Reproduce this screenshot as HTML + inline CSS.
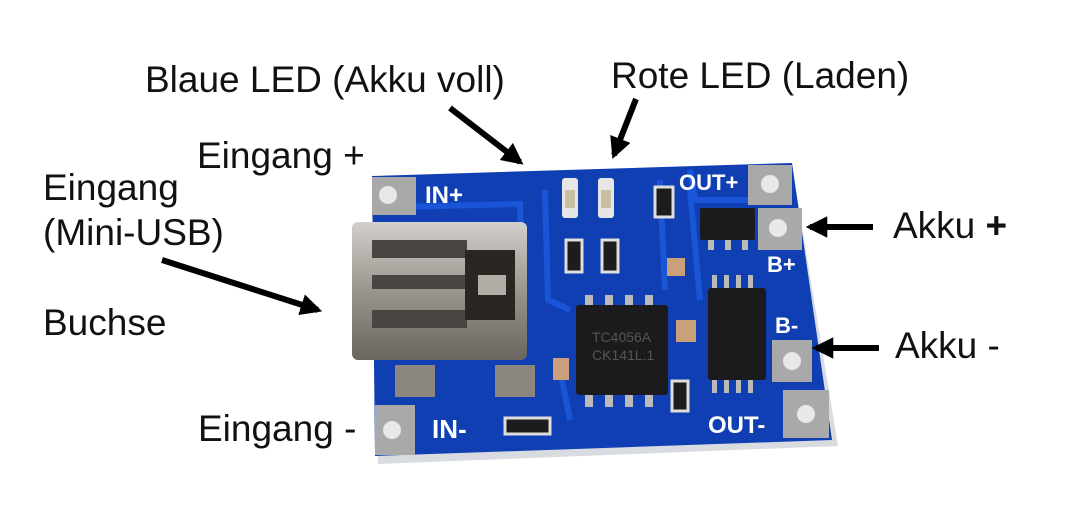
<!DOCTYPE html>
<html><head><meta charset="utf-8"><style>
html,body{margin:0;padding:0;background:#fff;}
svg{display:block;}
text{font-family:"Liberation Sans",Arial,sans-serif;}
</style></head><body>
<svg width="1087" height="529" viewBox="0 0 1087 529" xmlns="http://www.w3.org/2000/svg">
<defs>
<marker id="ah" viewBox="0 0 10 10" refX="8" refY="5" markerWidth="3.6" markerHeight="3.6" orient="auto" markerUnits="strokeWidth">
<path d="M0,0 L10,5 L0,10 z" fill="#000"/></marker>
<linearGradient id="usb" x1="0" y1="0" x2="0" y2="1"><stop offset="0" stop-color="#d2d0cc"/><stop offset="0.5" stop-color="#9a958e"/><stop offset="1" stop-color="#6a655e"/></linearGradient>
</defs>
<!-- board edge/thickness -->
<polygon points="372,180 792,166 838,446 378,464" fill="#d8dbe0"/>
<!-- board -->
<polygon points="372,176 792,163 832,440 375,456" fill="#0f3fb3"/>
<!-- traces -->
<g stroke="#1a55d8" stroke-width="6" fill="none">
<path d="M400,207 L520,204 L522,300"/><path d="M545,190 L548,300 L570,310"/>
<path d="M660,180 L665,290"/><path d="M690,190 L700,300"/><path d="M560,370 L570,420"/>
<path d="M690,170 L695,200 L760,200"/>
</g>
<!-- corner pads -->
<g fill="#a9a9a9">
<rect x="372" y="177" width="44" height="38"/><rect x="748" y="165" width="44" height="40"/>
<rect x="758" y="208" width="44" height="42"/><rect x="772" y="340" width="40" height="42"/>
<rect x="783" y="390" width="46" height="48"/><rect x="375" y="405" width="40" height="50"/>
</g>
<g fill="#e8e8ea"><circle cx="388" cy="195" r="9"/><circle cx="770" cy="184" r="9"/><circle cx="778" cy="228" r="9"/><circle cx="792" cy="361" r="9"/><circle cx="806" cy="414" r="9"/><circle cx="392" cy="430" r="9"/></g>
<!-- pad labels -->
<g fill="#fff" font-weight="bold">
<text x="425" y="203" font-size="24">IN+</text>
<text x="432" y="438" font-size="26">IN-</text>
<text x="679" y="190" font-size="22">OUT+</text>
<text x="708" y="433" font-size="24">OUT-</text>
<text x="767" y="272" font-size="22">B+</text>
<text x="775" y="333" font-size="22">B-</text>
</g>
<!-- USB connector -->
<rect x="352" y="222" width="175" height="138" rx="6" fill="url(#usb)"/>
<rect x="372" y="240" width="95" height="18" fill="#4a4540"/>
<rect x="372" y="275" width="110" height="14" fill="#4a4540"/>
<rect x="372" y="310" width="95" height="18" fill="#4a4540"/>
<rect x="465" y="250" width="50" height="70" fill="#2a2622"/>
<rect x="478" y="275" width="28" height="20" fill="#b0aca6"/>
<rect x="395" y="365" width="40" height="32" fill="#8b8680"/>
<rect x="495" y="365" width="40" height="32" fill="#8b8680"/>
<!-- LEDs -->
<g fill="#e6e6e6"><rect x="562" y="178" width="16" height="40" rx="3"/><rect x="598" y="178" width="16" height="40" rx="3"/></g>
<g fill="#c8c0a0"><rect x="565" y="190" width="10" height="18"/><rect x="601" y="190" width="10" height="18"/></g>
<!-- resistors -->
<g fill="#1c1c1c" stroke="#ddd" stroke-width="3">
<rect x="566" y="240" width="16" height="32"/><rect x="602" y="240" width="16" height="32"/>
<rect x="655" y="187" width="18" height="30"/><rect x="672" y="381" width="16" height="30"/>
<rect x="505" y="418" width="45" height="16"/>
</g>
<g fill="#c9a07a"><rect x="667" y="258" width="18" height="18"/><rect x="676" y="320" width="20" height="22"/><rect x="553" y="358" width="16" height="22"/></g>
<!-- chips -->
<g fill="#bbb"><rect x="585" y="295" width="8" height="15"/><rect x="605" y="295" width="8" height="15"/><rect x="625" y="295" width="8" height="15"/><rect x="645" y="295" width="8" height="15"/>
<rect x="585" y="392" width="8" height="15"/><rect x="605" y="392" width="8" height="15"/><rect x="625" y="392" width="8" height="15"/><rect x="645" y="392" width="8" height="15"/>
<rect x="712" y="275" width="5" height="15"/><rect x="724" y="275" width="5" height="15"/><rect x="736" y="275" width="5" height="15"/><rect x="748" y="275" width="5" height="15"/>
<rect x="712" y="378" width="5" height="15"/><rect x="724" y="378" width="5" height="15"/><rect x="736" y="378" width="5" height="15"/><rect x="748" y="378" width="5" height="15"/>
<rect x="708" y="238" width="6" height="12"/><rect x="725" y="238" width="6" height="12"/><rect x="742" y="238" width="6" height="12"/></g>
<rect x="576" y="305" width="92" height="90" rx="3" fill="#1b1b1d"/>
<text x="592" y="342" font-size="14" fill="#555">TC4056A</text>
<text x="592" y="360" font-size="14" fill="#555">CK141L.1</text>
<rect x="708" y="288" width="58" height="92" rx="3" fill="#1b1b1d"/>
<rect x="700" y="208" width="55" height="32" rx="2" fill="#1b1b1d"/>
<!-- labels -->
<g font-size="37" fill="#111">
<text x="145" y="92">Blaue LED (Akku voll)</text>
<text x="611" y="88">Rote LED (Laden)</text>
<text x="197" y="168">Eingang +</text>
<text x="43" y="200">Eingang</text>
<text x="43" y="245">(Mini-USB)</text>
<text x="43" y="335">Buchse</text>
<text x="198" y="441">Eingang -</text>
<text x="893" y="238">Akku <tspan font-weight="bold">+</tspan></text>
<text x="895" y="358">Akku -</text>
</g>
<!-- arrows -->
<g stroke="#000" stroke-width="6" marker-end="url(#ah)">
<line x1="450" y1="108" x2="520" y2="162" transform="translate(0,0)"/>
<line x1="636" y1="99" x2="614" y2="155"/>
<line x1="162" y1="260" x2="318" y2="310"/>
<line x1="873" y1="227" x2="810" y2="227"/>
<line x1="879" y1="348" x2="816" y2="348"/>
</g>
</svg>
</body></html>
